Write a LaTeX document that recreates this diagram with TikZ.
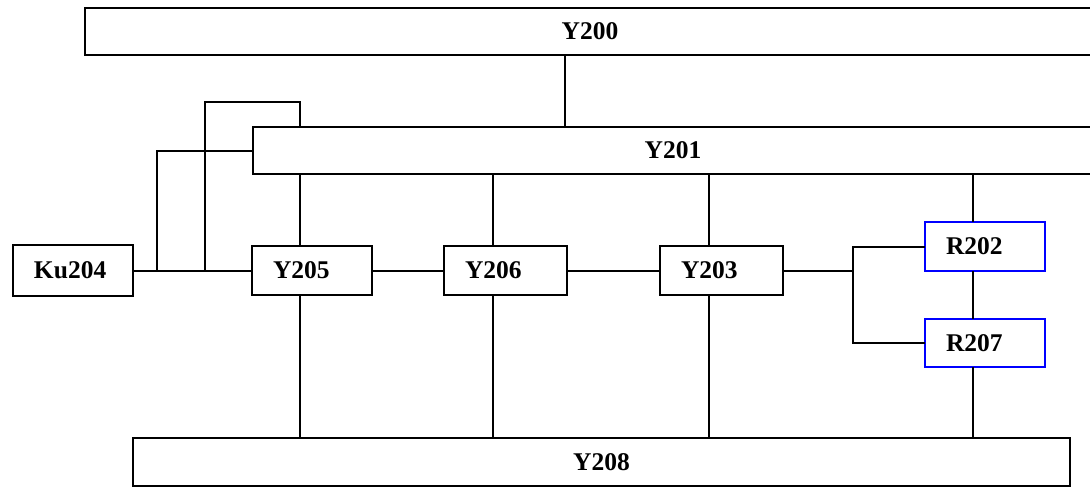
\documentclass[tikz,border=0pt]{standalone}
\usepackage{fontspec}
\setmainfont{Liberation Serif}
\begin{document}
\begin{tikzpicture}[x=1pt,y=-1pt,
  every node/.style={font=\fontsize{25.5}{30}\selectfont\bfseries, outer sep=0pt},
  bigbox/.style={draw, line width=2pt, minimum height=47pt, inner sep=0pt},
  smallbox/.style={draw, line width=2pt, minimum height=49pt, inner ysep=0pt, inner xsep=21pt, text width=#1, align=left},
  bluebox/.style={smallbox=#1, draw=blue},
  wire/.style={line width=2pt}]
\useasboundingbox (0,0) rectangle (1090,488);
% bus boxes
\node[bigbox, minimum width=1010pt] (Y200) at (590,31.5) {Y200};
\node[bigbox, minimum width=840pt] (Y201) at (673,150.5) {Y201};
\node[bigbox, minimum width=937pt, minimum height=48pt] (Y208) at (601.5,462) {Y208};
% unit boxes
\node[smallbox=78pt, minimum height=51pt] (Ku204) at (73,270.5) {Ku204};
\node[smallbox=78pt] (Y205) at (312,270.5) {Y205};
\node[smallbox=81pt] (Y206) at (505.5,270.5) {Y206};
\node[smallbox=81pt] (Y203) at (721.5,270.5) {Y203};
\node[bluebox=78pt] (R202) at (985,246.5) {R202};
\node[bluebox=78pt, minimum height=48pt] (R207) at (985,343) {R207};
% helper coordinates
\coordinate (c200) at (565,80);
\coordinate (b1) at (157,270.5);
\coordinate (b2) at (205,270.5);
\coordinate (t) at (300,102);
\coordinate (f) at (853,270.5);
% Y200 - Y201
\draw[wire] (c200 |- Y200.south) -- (c200 |- Y201.north);
% Y201 down to units
\draw[wire] ([xshift=-12pt]Y205.north) -- ([xshift=-12pt]Y205.north |- Y201.south);
\draw[wire] ([xshift=-13pt]Y206.north) -- ([xshift=-13pt]Y206.north |- Y201.south);
\draw[wire] ([xshift=-12.5pt]Y203.north) -- ([xshift=-12.5pt]Y203.north |- Y201.south);
\draw[wire] ([xshift=-12pt]R202.north) -- ([xshift=-12pt]R202.north |- Y201.south);
% units down to Y208
\draw[wire] ([xshift=-12pt]Y205.south) -- ([xshift=-12pt]Y205.south |- Y208.north);
\draw[wire] ([xshift=-13pt]Y206.south) -- ([xshift=-13pt]Y206.south |- Y208.north);
\draw[wire] ([xshift=-12.5pt]Y203.south) -- ([xshift=-12.5pt]Y203.south |- Y208.north);
\draw[wire] ([xshift=-12pt]R207.south) -- ([xshift=-12pt]R207.south |- Y208.north);
\draw[wire] ([xshift=-12pt]R202.south) -- ([xshift=-12pt]R207.north);
% horizontal chain
\draw[wire] (Ku204.east) -- (Y205.west);
\draw[wire] (Y205.east) -- (Y206.west);
\draw[wire] (Y206.east) -- (Y203.west);
\draw[wire] (Y203.east) -- (f);
\draw[wire] (R202.west) -| (f) |- (R207.west);
% Ku204 bus feeders
\draw[wire] (b1) |- (Y201.west);
\draw[wire] (b2) |- (t) -- (t |- Y201.north);
\end{tikzpicture}
\end{document}
